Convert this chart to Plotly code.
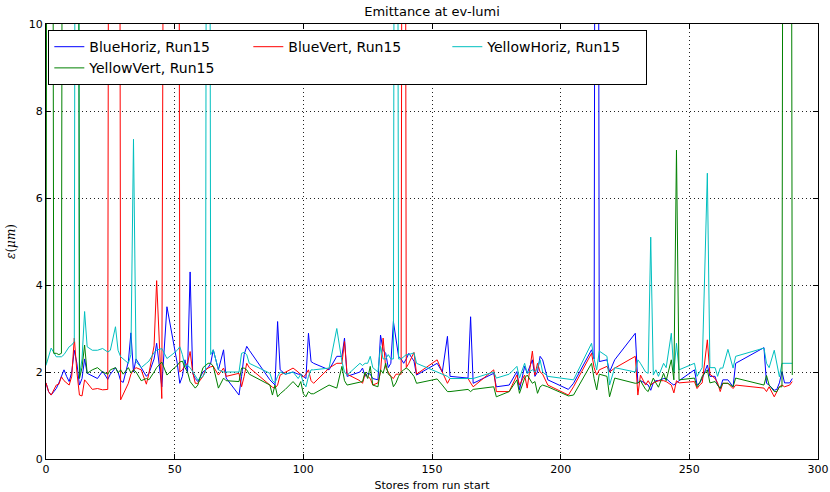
import plotly.graph_objects as go

# Store index (x) shared by all four emittance series
stores = [
    0, 1, 2, 3, 4, 5, 6, 7, 8, 9,
    10, 11, 12, 13, 14, 15, 16, 18, 20, 22,
    24, 25, 27, 28, 29, 30, 32, 33, 34, 35,
    37, 39, 40, 42, 43, 45, 47, 49, 51, 52,
    53, 54, 55, 56, 57, 58, 59, 61, 62, 63,
    64, 65, 67, 69, 70, 75, 76, 77, 78, 79,
    87, 88, 89, 90, 91, 93, 96, 98, 99, 100,
    101, 102, 103, 104, 110, 113, 115, 116, 117, 122,
    123, 124, 125, 126, 127, 129, 130, 131, 132, 133,
    134, 135, 136, 137, 138, 139, 140, 141, 143, 144,
    152, 154, 156, 157, 164, 165, 166, 174, 175, 180,
    183, 184, 186, 187, 189, 190, 191, 192, 193, 195,
    203, 205, 212, 213, 214, 215, 218, 219, 221, 229,
    230, 231, 233, 234, 235, 236, 237, 238, 240, 241,
    243, 244, 245, 246, 252, 253, 254, 255, 257, 258,
    260, 261, 262, 263, 265, 267, 268, 279, 280, 281,
    283, 284, 285, 286, 287, 289, 290,
]

# Emittance in um; off-scale stores (fit failures) run far above the axis
blue_horiz = [
    1.75, 1.55, 1.47, 1.55, 1.62, 1.75, 1.9, 2.05, 1.9, 1.78,
    2.0, 2.5, 2.2, 1.7, 1.85, 2.3, 1.97, 1.9, 1.85, 2.02,
    1.83, 1.95, 2.1, 2.0, 1.8, 1.76, 2.24, 2.9, 2.0, 2.3,
    2.1, 1.9, 1.97, 2.3, 2.66, 1.66, 3.5, 2.8, 2.2, 1.74,
    1.9, 2.28, 2.0, 4.3, 1.97, 1.85, 1.78, 2.0, 2.05, 2.1,
    2.2, 2.51, 2.05, 2.51, 1.86, 1.47, 1.9, 2.4, 2.59, 2.5,
    1.82, 1.75, 1.7, 3.16, 2.05, 1.95, 2.0, 1.95, 1.95, 1.9,
    1.85, 2.89, 2.24, 2.2, 2.05, 2.36, 2.36, 2.78, 1.9, 2.0,
    2.09, 1.9, 1.97, 1.95, 1.85, 1.82, 2.85, 2.5, 2.43, 2.1,
    2.2, 3.16, 2.8, 2.36, 2.3, 2.2, 2.3, 2.43, 2.25, 1.93,
    2.2, 2.0, 2.82, 1.9, 1.86, 3.27, 1.74, 1.97, 1.66, 1.7,
    2.01, 1.59, 2.13, 1.97, 2.28, 1.9, 2.0, 2.36, 2.28, 1.82,
    1.6, 1.74, 2.51, 2.3, 40, 2.24, 2.28, 2.0, 2.28, 2.89,
    1.74, 1.8, 1.74, 1.7, 1.58, 1.75, 1.8, 1.8, 1.85, 1.85,
    1.74, 1.7, 1.75, 1.8, 2.05, 1.7, 1.75, 1.85, 2.16, 1.9,
    1.9, 1.7, 1.62, 1.82, 1.82, 1.66, 2.2, 2.56, 1.74, 1.7,
    1.58, 1.6, 1.75, 2.01, 1.75, 1.75, 1.85,
]

blue_vert = [
    1.75, 1.55, 1.47, 1.6, 1.7, 1.72, 1.89, 1.8, 1.75, 1.7,
    1.9, 2.78, 2.0, 1.47, 1.45, 1.82, 1.75, 1.6, 1.62, 1.59,
    1.6, 40, 40, 40, 1.36, 1.5, 1.74, 1.95, 2.05, 2.1,
    2.05, 1.72, 1.97, 2.6, 4.1, 1.39, 40, 40, 40, 2.0,
    2.05, 2.15, 2.2, 2.47, 2.0, 1.74, 1.74, 1.9, 2.05, 2.09,
    2.12, 2.13, 1.93, 2.09, 1.9, 1.97, 1.66, 1.9, 2.2, 2.1,
    1.7, 1.65, 1.63, 1.7, 1.93, 2.0, 2.09, 2.0, 1.95, 1.88,
    1.95, 2.05, 1.8, 1.74, 2.09, 2.2, 2.2, 2.7, 1.95, 1.8,
    1.74, 1.95, 1.9, 1.85, 1.7, 1.75, 2.0, 2.78, 2.1, 2.0,
    1.9, 1.85, 1.95, 1.95, 1.95, 40, 2.1, 2.2, 2.45, 1.95,
    2.28, 2.0, 1.74, 1.85, 1.85, 1.75, 1.66, 2.05, 1.55, 1.55,
    1.93, 1.7, 1.93, 1.63, 2.48, 1.93, 2.2, 2.0, 1.95, 1.7,
    1.47, 1.66, 2.43, 2.1, 1.93, 2.05, 2.13, 2.0, 2.09, 2.36,
    1.47, 1.93, 1.7, 1.8, 1.7, 1.75, 1.78, 1.8, 1.8, 1.78,
    1.7, 1.52, 1.8, 1.75, 1.78, 1.62, 1.7, 1.75, 2.74, 1.95,
    1.85, 1.75, 1.55, 1.74, 1.74, 1.62, 1.7, 1.63, 1.55, 1.66,
    1.43, 1.55, 1.66, 1.7, 1.66, 1.7, 1.78,
]

yellow_horiz = [
    2.15, 2.35, 2.55, 2.45, 2.35, 2.35, 2.35, 2.4, 2.5, 2.58,
    2.62, 2.7, 40, 1.9, 2.3, 3.39, 2.58, 2.5, 2.5, 2.54,
    2.46, 2.5, 3.04, 2.5, 2.35, 2.3, 2.2, 2.4, 7.35, 2.24,
    2.1, 2.2, 2.25, 2.45, 2.5, 2.54, 2.31, 2.4, 2.5, 2.58,
    2.4, 2.13, 2.15, 2.1, 2.0, 1.9, 1.82, 1.9, 2.0, 40,
    2.4, 2.51, 2.05, 2.0, 2.0, 2.0, 2.43, 2.45, 2.4, 2.2,
    1.97, 1.8, 1.75, 1.9, 2.0, 1.95, 2.0, 1.85, 1.95, 1.75,
    1.66, 1.9, 2.05, 2.05, 2.09, 3.0, 2.24, 2.0, 1.93, 2.2,
    2.15, 2.2, 2.2, 2.36, 2.1, 2.0, 2.59, 2.3, 2.3, 2.4,
    2.3, 2.3, 40, 2.3, 2.3, 2.35, 2.4, 2.4, 2.44, 2.2,
    2.0, 1.95, 1.9, 1.85, 1.85, 1.85, 1.85, 2.0, 1.86, 1.95,
    2.13, 1.86, 2.2, 1.97, 2.05, 2.0, 2.1, 2.28, 2.0, 1.9,
    1.84, 1.82, 2.66, 2.3, 2.05, 2.48, 2.36, 1.7, 2.1, 2.0,
    2.28, 2.2, 2.0, 1.97, 5.1, 1.93, 2.05, 1.9, 2.2, 2.1,
    2.89, 2.0, 2.66, 2.05, 2.2, 1.9, 2.0, 2.1, 6.57, 2.1,
    2.1, 1.9, 2.09, 2.09, 2.52, 2.09, 2.36, 2.55, 2.2, 2.1,
    2.5, 2.2, 1.89, 2.2, 2.2, 2.2, 2.2,
]

yellow_vert = [
    2.2, 40, 40, 2.43, 2.43, 2.4, 2.43, 40, 40, 40,
    40, 40, 40, 1.85, 2.1, 2.62, 1.97, 2.05, 2.1, 2.0,
    1.95, 2.05, 2.1, 1.98, 2.05, 1.95, 2.1, 1.98, 2.05, 2.0,
    1.8, 1.85, 1.82, 2.0, 2.1, 2.23, 1.93, 2.05, 2.15, 2.23,
    2.25, 2.1, 2.0, 1.78, 1.7, 1.63, 1.7, 2.1, 2.15, 2.2,
    2.2, 2.13, 1.63, 1.86, 1.8, 1.78, 2.09, 2.09, 2.05, 1.95,
    1.7, 1.47, 1.7, 1.43, 1.5, 1.6, 1.78, 1.65, 1.78, 1.5,
    1.43, 1.55, 1.5, 1.5, 1.7, 1.63, 2.13, 1.8, 1.7, 1.78,
    1.78, 2.0, 1.85, 2.13, 1.7, 1.66, 2.05, 1.97, 2.2, 1.95,
    1.9, 1.66, 1.75, 1.9, 2.0, 2.05, 2.09, 2.05, 1.9, 1.74,
    1.84, 1.7, 1.55, 1.55, 1.6, 1.55, 1.6, 1.66, 1.43, 1.55,
    1.82, 1.51, 1.86, 1.93, 1.74, 1.78, 1.51, 1.66, 1.7, 1.66,
    1.45, 1.47, 2.2, 1.85, 1.59, 1.95, 1.9, 1.43, 1.86, 1.74,
    1.75, 1.8, 1.6, 1.55, 1.7, 1.86, 1.75, 1.65, 1.97, 1.8,
    2.28, 1.82, 7.1, 1.82, 1.86, 1.66, 1.75, 1.9, 2.05, 1.75,
    1.78, 1.7, 1.62, 1.74, 1.74, 1.66, 1.86, 1.7, 1.92, 1.7,
    1.55, 1.55, 1.66, 1.66, 40, 40, 1.93,
]

series = [
    ("BlueHoriz, Run15", blue_horiz, "#0000ff"),
    ("BlueVert, Run15", blue_vert, "#ff0000"),
    ("YellowHoriz, Run15", yellow_horiz, "#00bfbf"),
    ("YellowVert, Run15", yellow_vert, "#008000"),
]

FONT = "DejaVu Sans"

fig = go.Figure()
for name, values, color in series:
    assert len(values) == len(stores), name
    fig.add_trace(go.Scatter(
        x=stores, y=values, mode="lines", name=name,
        line=dict(color=color, width=1),
    ))

axis_common = dict(
    automargin=False,
    showline=True, linecolor="black", linewidth=1, mirror="allticks",
    ticks="inside", ticklen=5, tickcolor="black",
    showgrid=True, gridcolor="#222", gridwidth=1, griddash="1px,3px",
    zeroline=False, tickfont=dict(family=FONT, size=11, color="black"),
)

fig.update_layout(
    template="none",
    width=830, height=492,
    margin=dict(l=46, r=12, t=24, b=33),
    paper_bgcolor="white", plot_bgcolor="white",
    font=dict(family=FONT, color="black"),
    title=dict(text="Emittance at ev-lumi", x=0.5, xref="paper",
               y=0.976, yref="container", yanchor="middle",
               font=dict(family=FONT, size=13, color="black")),
    xaxis=dict(range=[0, 300], tickvals=[0, 50, 100, 150, 200, 250, 300],
               title=dict(text="Stores from run start",
                          font=dict(family=FONT, size=11), standoff=6),
               **axis_common),
    yaxis=dict(range=[0, 10], tickvals=[0, 2, 4, 6, 8, 10],
               title=dict(text="<i>ε</i>(<i>μm</i>)",
                          font=dict(family="DejaVu Serif", size=12), standoff=10),
               **axis_common),
    legend=dict(orientation="h", x=0.003, y=0.986, xanchor="left", yanchor="top",
                bgcolor="white", bordercolor="black", borderwidth=1,
                entrywidth=154, entrywidthmode="pixels",
                font=dict(family=FONT, size=14, color="black"),
                tracegroupgap=0),
    showlegend=True,
)

fig.write_html("out.html")
